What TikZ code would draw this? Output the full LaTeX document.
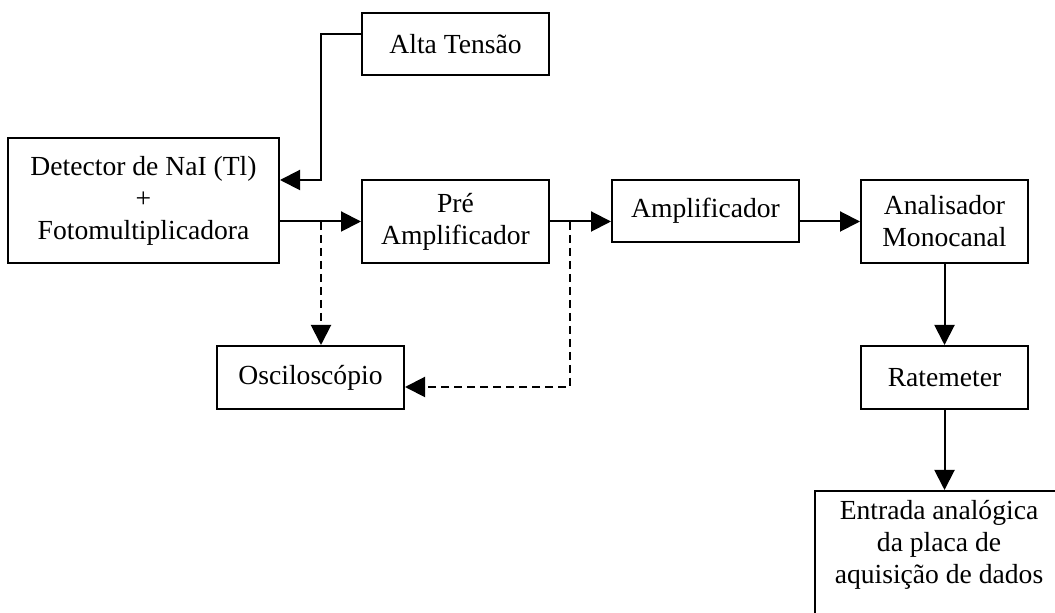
\documentclass[tikz,border=0pt]{standalone}
\usepackage{fontspec}
\setmainfont{Liberation Serif}
\usetikzlibrary{arrows.meta}
\begin{document}
\begin{tikzpicture}[x=0.5pt,y=-0.5pt,
  box/.style={draw, line width=1pt, inner sep=0pt, align=center, font=\fontsize{13.8}{16}\selectfont},
  txt/.style={inner sep=0pt, align=center, font=\fontsize{13.8}{16}\selectfont},
  arr/.style={line width=1pt, -{Triangle[length=10pt,width=10pt]}},
  dsh/.style={arr, dash pattern=on 4pt off 2.5pt}]
\useasboundingbox (0,0) rectangle (1055,613);
\clip (0,0) rectangle (1055,613);
\node[box, minimum width=93.5pt, minimum height=31pt] (alta) at (455.5,44) {Alta Tensão};
\node[box, minimum width=135.5pt, minimum height=62.5pt] (det) at (143.5,200.5) {Detector de NaI (Tl)\\+\\Fotomultiplicadora};
\node[box, minimum width=93.5pt, minimum height=41.5pt] (pre) at (455.5,221.5) {Pré\\Amplificador};
\node[box, minimum width=93.5pt, minimum height=31pt] (amp) at (705.5,211) {Amplificador};
\node[box, minimum width=83.5pt, minimum height=41.5pt] (ana) at (944.5,221.5) {Analisador\\Monocanal};
\node[box, minimum width=93.5pt, minimum height=31.5pt] (osc) at (310.5,377.5) {Osciloscópio};
\node[box, minimum width=83.5pt, minimum height=31.5pt] (rate) at (944.5,377.5) {Ratemeter};
\node[box, minimum width=130pt, minimum height=74.5pt] (ent) at (944.5,565.5) {};
\node[txt] (entt) at (939,545) {Entrada analógica\\da placa de\\aquisição de dados};
\coordinate (hv) at (321,180);
\coordinate (t1) at (321,222);
\coordinate (t2) at (570,222);
\coordinate (c2) at (570,387);
\draw[arr] ([yshift=5pt]alta.west) -| (hv) -- (det.east |- hv);
\draw[arr] (det.east |- pre.west) -- (pre.west);
\draw[dsh] (t1) -- (t1 |- osc.north);
\draw[arr] (pre.east) -- (amp.west |- pre.east);
\draw[dsh] (t2) -- (c2) -- (osc.east |- c2);
\draw[arr] (amp.east |- ana.west) -- (ana.west);
\draw[arr] (ana.south) -- (rate.north);
\draw[arr] (rate.south) -- (ent.north);
\end{tikzpicture}
\end{document}
